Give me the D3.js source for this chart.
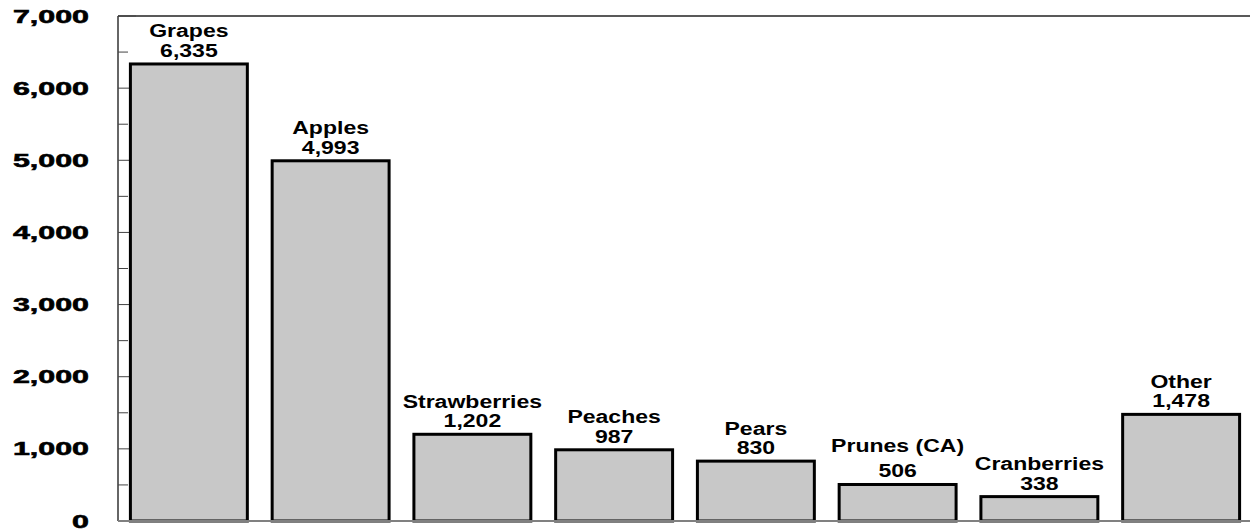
<!DOCTYPE html>
<html>
<head>
<meta charset="utf-8">
<script src="https://cdn.jsdelivr.net/npm/d3@7"></script>
<style>
  html, body { margin: 0; padding: 0; background: #fff; }
</style>
</head>
<body>
<div id="chart"></div>
<script>
// Fruit categories and values
const categories = ['Grapes', 'Apples', 'Strawberries', 'Peaches', 'Pears', 'Prunes (CA)', 'Cranberries', 'Other'];
const values = [6335, 4993, 1202, 987, 830, 506, 338, 1478];
const yTicks = [0, 1000, 2000, 3000, 4000, 5000, 6000, 7000];
const yMinorTicks = [500, 1500, 2500, 3500, 4500, 5500, 6500];

const width = 1250;
const height = 531;
const plotLeft = 118, plotRight = 1252, plotTop = 16, plotBottom = 521;

const fmt = d3.format(',');

const svg = d3.select('#chart').append('svg')
  .attr('width', width)
  .attr('height', height)
  .style('display', 'block');

const x = d3.scaleBand()
  .domain(categories)
  .range([plotLeft, plotRight])
  .paddingInner(0.175)
  .paddingOuter(0.0875);

const y = d3.scaleLinear()
  .domain([0, 7000])
  .range([plotBottom, plotTop]);

// Frame: top and left lines
svg.append('line')
  .attr('x1', plotLeft).attr('x2', width)
  .attr('y1', plotTop).attr('y2', plotTop)
  .attr('stroke', '#222').attr('stroke-width', 1.5);
svg.append('line')
  .attr('x1', plotLeft).attr('x2', plotLeft)
  .attr('y1', plotTop).attr('y2', plotBottom)
  .attr('stroke', '#333').attr('stroke-width', 1.5);

// Tick marks inside the plot
svg.append('g')
  .selectAll('line')
  .data(yTicks.slice(1))
  .join('line')
  .attr('x1', plotLeft).attr('x2', plotLeft + 18)
  .attr('y1', d => y(d)).attr('y2', d => y(d))
  .attr('stroke', '#444').attr('stroke-width', 1);
svg.append('g')
  .selectAll('line')
  .data(yMinorTicks)
  .join('line')
  .attr('x1', plotLeft).attr('x2', plotLeft + 10)
  .attr('y1', d => y(d)).attr('y2', d => y(d))
  .attr('stroke', '#444').attr('stroke-width', 1);

// Y tick labels (old wide bold face, so stretch Arial horizontally)
svg.append('g')
  .style('font', "bold 19px 'Liberation Sans', Arial, sans-serif")
  .attr('text-anchor', 'end')
  .selectAll('text')
  .data(yTicks)
  .join('text')
  .attr('transform', d => `translate(89,${y(d) + 6.5}) scale(1.6,1)`)
  .attr('fill', '#000')
  .attr('stroke', '#000')
  .attr('stroke-width', 0.6)
  .text(d => fmt(d));

// Bars
svg.append('g')
  .selectAll('rect')
  .data(values)
  .join('rect')
  .attr('x', (d, i) => x(categories[i]))
  .attr('y', d => y(d))
  .attr('width', x.bandwidth())
  .attr('height', d => plotBottom - y(d))
  .attr('fill', '#c8c8c8')
  .attr('stroke', '#000')
  .attr('stroke-width', 3);

// Bottom axis line
svg.append('line')
  .attr('x1', plotLeft).attr('x2', width)
  .attr('y1', plotBottom).attr('y2', plotBottom)
  .attr('stroke', '#808080').attr('stroke-width', 2);

// Bar labels: name over value
const labels = svg.append('g')
  .style('font', "bold 18px 'Liberation Sans', Arial, sans-serif")
  .attr('text-anchor', 'middle')
  .attr('fill', '#000');

values.forEach((v, i) => {
  const cx = x(categories[i]) + x.bandwidth() / 2;
  const base = y(v) - 7;
  const lineGap = categories[i] === 'Prunes (CA)' ? 25 : 19.5;
  labels.append('text')
    .attr('transform', `translate(${cx},${base}) scale(1.28,1)`)
    .text(fmt(v));
  labels.append('text')
    .attr('transform', `translate(${cx},${base - lineGap}) scale(1.28,1)`)
    .text(categories[i]);
});
</script>
</body>
</html>
